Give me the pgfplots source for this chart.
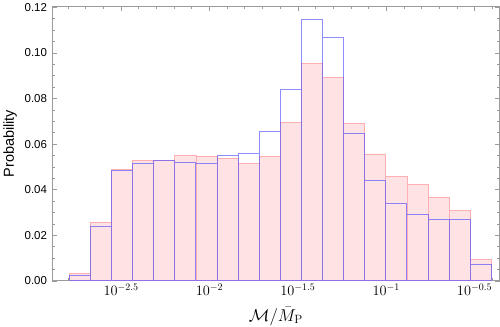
\documentclass[border=0pt]{standalone}
\usepackage[no-math]{fontspec}
\setmainfont{Liberation Sans}
\usepackage{pgfplots}
\pgfplotsset{compat=1.18}
\definecolor{pinkfill}{RGB}{255,226,228}
\definecolor{pinkedge}{RGB}{255,175,178}
\definecolor{blueedge}{RGB}{80,80,255}
\definecolor{framegray}{RGB}{155,155,155}

\begin{document}
\begin{tikzpicture}
\begin{axis}[
    scale only axis,
    width=447bp, height=274bp,
    xmin=-2.891, xmax=-0.358,
    ymin=0, ymax=0.1204,
    axis line style={draw=framegray, line width=0.8pt},
    tick style={draw=framegray, line width=0.6pt},
    tick align=inside,
    xtick pos=both, ytick pos=both,
    major tick length=5bp, minor tick length=3bp,
    xtick={-2.5,-2,-1.5,-1,-0.5},
    xticklabels={$10^{-2.5}$,$10^{-2}$,$10^{-1.5}$,$10^{-1}$,$10^{-0.5}$},
    minor xtick={-2.8,-2.7,-2.6,-2.4,-2.3,-2.2,-2.1,-1.9,-1.8,-1.7,-1.6,-1.4,-1.3,-1.2,-1.1,-0.9,-0.8,-0.7,-0.6,-0.4},
    ytick={0,0.02,0.04,0.06,0.08,0.1,0.12},
    minor y tick num=3,
    yticklabel style={font=\fontsize{11.5}{12}\selectfont, xshift=-1.5bp,
        /pgf/number format/.cd, fixed, fixed zerofill, precision=2, assume math mode=true},
    xticklabel style={font=\fontsize{14}{14}\selectfont, inner sep=1bp, yshift=-2bp},
    xlabel={$\mathcal{M}/\bar{M}_{\mathrm{P}}$},
    xlabel style={font=\fontsize{18}{20}\selectfont, inner sep=1bp,
        at={(axis description cs:0.5,0)}, anchor=north, yshift=-25bp},
    ylabel={Probability},
    ylabel style={font=\fontsize{14.5}{16}\selectfont, yshift=1bp},
]
\addplot[ybar interval, fill=pinkfill, draw=pinkedge, line width=0.8pt] coordinates {
(-2.7930,0.0034)
(-2.6736,0.0256)
(-2.5542,0.0487)
(-2.4348,0.0530)
(-2.3154,0.0527)
(-2.1960,0.0549)
(-2.0766,0.0546)
(-1.9572,0.0536)
(-1.8378,0.0517)
(-1.7184,0.0548)
(-1.5990,0.0696)
(-1.4796,0.0954)
(-1.3602,0.0893)
(-1.2408,0.0690)
(-1.1214,0.0557)
(-1.0020,0.0460)
(-0.8826,0.0421)
(-0.7632,0.0364)
(-0.6438,0.0308)
(-0.5244,0.0093)
(-0.4050,0)
};
\addplot[ybar interval, fill=none, draw=blueedge, draw opacity=0.65, line width=1pt] coordinates {
(-2.7930,0.0024)
(-2.6736,0.0238)
(-2.5542,0.0484)
(-2.4348,0.0516)
(-2.3154,0.0527)
(-2.1960,0.0520)
(-2.0766,0.0517)
(-1.9572,0.0548)
(-1.8378,0.0559)
(-1.7184,0.0654)
(-1.5990,0.0841)
(-1.4796,0.1149)
(-1.3602,0.1070)
(-1.2408,0.0648)
(-1.1214,0.0440)
(-1.0020,0.0341)
(-0.8826,0.0291)
(-0.7632,0.0267)
(-0.6438,0.0268)
(-0.5244,0.0072)
(-0.4050,0)
};
\end{axis}
\end{tikzpicture}
\end{document}
